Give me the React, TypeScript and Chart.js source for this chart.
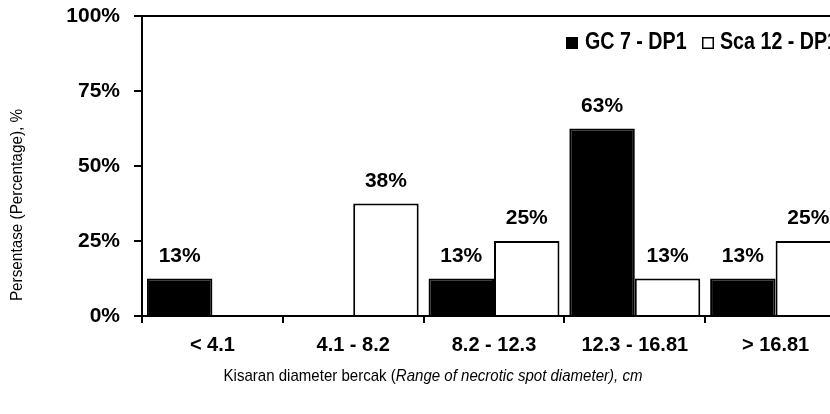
import React, { useEffect, useRef } from "react";
import { Chart, registerables } from "chart.js";

Chart.register(...registerables);

const categories = ["< 4.1", "4.1 - 8.2", "8.2 - 12.3", "12.3 - 16.81", "> 16.81"];
const gcValues = [12.5, 0, 12.5, 62.5, 12.5];
const scaValues = [0, 37.5, 25, 12.5, 25];
const seriesNames = ["GC 7 - DP1", "Sca 12 - DP1"];
const yTicks = [0, 25, 50, 75, 100];
const yTitle = "Persentase (Percentage), %";
const xTitlePlain = "Kisaran diameter bercak (";
const xTitleItalic = "Range of necrotic spot diameter), cm";

const FONT = "Arial, 'Liberation Sans', sans-serif";

const decorPlugin = {
  id: "decor",
  afterDatasetsDraw(chart: any) {
    const ctx = chart.ctx;
    const area = chart.chartArea;
    ctx.save();
    // frame top and right
    ctx.strokeStyle = "#000";
    ctx.lineWidth = 2;
    ctx.beginPath();
    ctx.moveTo(area.left, area.top);
    ctx.lineTo(area.right, area.top);
    ctx.lineTo(area.right, area.bottom);
    ctx.stroke();

    // data labels
    ctx.fillStyle = "#000";
    ctx.font = `bold 21px ${FONT}`;
    ctx.textAlign = "center";
    ctx.textBaseline = "alphabetic";
    chart.data.datasets.forEach((ds: any, di: number) => {
      const meta = chart.getDatasetMeta(di);
      meta.data.forEach((bar: any, i: number) => {
        const v = ds.data[i];
        if (!v) return;
        ctx.fillText(Math.round(v) + "%", bar.x, bar.y - 17);
      });
    });

    // legend (condensed bold)
    const sx = 0.855;
    ctx.font = `bold 23px ${FONT}`;
    ctx.textAlign = "left";
    const ly = 49;
    ctx.fillStyle = "#000";
    ctx.fillRect(566, ly - 12, 12, 12);
    ctx.save();
    ctx.translate(585, ly);
    ctx.scale(sx, 1);
    ctx.fillText(seriesNames[0], 0, 0);
    ctx.restore();
    ctx.lineWidth = 1.5;
    ctx.strokeRect(702.75, ly - 11.25, 10.5, 10.5);
    ctx.save();
    ctx.translate(720, ly);
    ctx.scale(sx, 1);
    ctx.fillText(seriesNames[1], 0, 0);
    ctx.restore();

    // y title
    ctx.save();
    ctx.translate(17, 205);
    ctx.rotate(-Math.PI / 2);
    ctx.scale(0.9, 1);
    ctx.font = `17px ${FONT}`;
    ctx.textAlign = "center";
    ctx.textBaseline = "middle";
    ctx.fillText(yTitle, 0, 0);
    ctx.restore();

    // x title
    const xs = 0.885;
    ctx.font = `17px ${FONT}`;
    const w1 = ctx.measureText(xTitlePlain).width;
    ctx.font = `italic 17px ${FONT}`;
    const w2 = ctx.measureText(xTitleItalic).width;
    ctx.save();
    ctx.translate(433, 376);
    ctx.scale(xs, 1);
    const startX = -(w1 + w2) / 2;
    ctx.textAlign = "left";
    ctx.textBaseline = "middle";
    ctx.font = `17px ${FONT}`;
    ctx.fillText(xTitlePlain, startX, 0);
    ctx.font = `italic 17px ${FONT}`;
    ctx.fillText(xTitleItalic, startX + w1, 0);
    ctx.restore();
    ctx.restore();
  },
};

export default function App() {
  const ref = useRef<HTMLCanvasElement>(null);
  useEffect(() => {
    if (!ref.current) return;
    const chart = new Chart(ref.current, {
      type: "bar",
      data: {
        labels: categories,
        datasets: [
          {
            label: seriesNames[0],
            data: gcValues,
            backgroundColor: "#000",
            borderColor: "#000",
            borderWidth: 2,
            categoryPercentage: 0.93,
            barPercentage: 1,
          },
          {
            label: seriesNames[1],
            data: scaValues,
            backgroundColor: "#fff",
            borderColor: "#000",
            borderWidth: 2,
            categoryPercentage: 0.93,
            barPercentage: 1,
          },
        ],
      },
      options: {
        responsive: false,
        animation: false,
        devicePixelRatio: 1,
        layout: { padding: { left: 0, top: 16, right: 24, bottom: 0 } },
        plugins: {
          legend: { display: false },
          tooltip: { enabled: false },
        },
        scales: {
          x: {
            grid: {
              display: true,
              drawOnChartArea: false,
              drawTicks: true,
              tickLength: 7,
              color: "#000",
              lineWidth: 2,
              offset: true,
            },
            border: { display: true, color: "#000", width: 2 },
            ticks: {
              color: "#000",
              font: { family: FONT, size: 20, weight: "bold" },
              padding: 10,
              maxRotation: 0,
            },
            afterFit: (s: any) => {
              s.height = 98;
              s.paddingLeft = 0;
              s.paddingRight = 0;
            },
          },
          y: {
            min: 0,
            max: 100,
            afterBuildTicks: (s: any) => {
              s.ticks = yTicks.map((v) => ({ value: v }));
            },
            grid: {
              display: true,
              drawOnChartArea: false,
              drawTicks: true,
              tickLength: 8,
              color: "#000",
              lineWidth: 2,
            },
            border: { display: true, color: "#000", width: 2 },
            ticks: {
              color: "#000",
              font: { family: FONT, size: 21, weight: "bold" },
              padding: 14,
              callback: (v: any) => v + "%",
            },
            afterFit: (s: any) => {
              s.width = 142;
              s.paddingTop = 0;
              s.paddingBottom = 0;
            },
          },
        },
      },
      plugins: [decorPlugin],
    });
    return () => chart.destroy();
  }, []);
  return (
    <div
      style={{
        position: "fixed",
        left: 0,
        top: 0,
        width: 830,
        height: 414,
        overflow: "hidden",
        background: "#fff",
      }}
    >
      <canvas ref={ref} width={870} height={414} />
    </div>
  );
}
